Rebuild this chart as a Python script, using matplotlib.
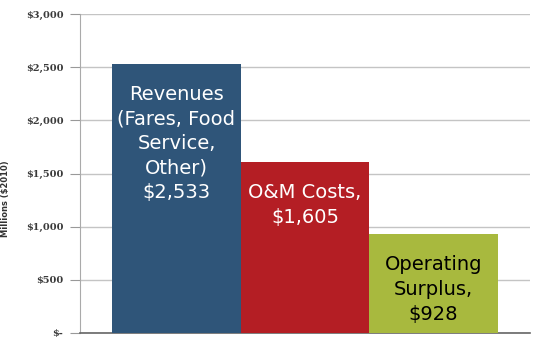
import matplotlib.pyplot as plt
from matplotlib.ticker import FuncFormatter

labels = ['Revenues\n(Fares, Food\nService,\nOther)', 'O&M Costs,', 'Operating\nSurplus,']
values = [2533, 1605, 928]
bar_colors = ['#2F5579', '#B41E24', '#A8B93E']
text_colors = ['white', 'white', 'black']
yticks = [0, 500, 1000, 1500, 2000, 2500, 3000]

fig = plt.figure(figsize=(5.37, 3.37), dpi=100)
ax = fig.add_axes([0.149, 0.012, 0.838, 0.946])

x = range(len(values))
ax.bar(x, values, width=1.0, color=bar_colors, edgecolor='none', zorder=3)

for i, (lab, v) in enumerate(zip(labels, values)):
    ax.annotate(f'{lab}\n${v:,}', xy=(i, v), xytext=(0, -15),
                textcoords='offset points', ha='center', va='top',
                fontsize=14, color=text_colors[i], linespacing=1.38,
                zorder=4)

def money(val, pos):
    return '$-' if val == 0 else f'${val:,.0f}'

ax.set_ylim(0, 3000)
ax.set_xlim(-0.75, 2.75)
ax.set_yticks(yticks)
ax.yaxis.set_major_formatter(FuncFormatter(money))
ax.set_xticks([])
ax.tick_params(axis='y', length=7, width=0.8, color='#999999', pad=5,
               labelsize=7, labelcolor='#3A3A3A')
for t in ax.get_yticklabels():
    t.set_fontweight('bold')
    t.set_family('DejaVu Serif')

ax.grid(axis='y', color='#C4C4C4', linewidth=1, zorder=0)
ax.set_ylabel('Millions ($2010)', fontsize=6, fontweight='bold', color='#333333')
ax.yaxis.set_label_coords(-0.155, 0.42)

for s in ['top', 'right']:
    ax.spines[s].set_visible(False)
ax.spines['left'].set_color('#AAAAAA')
ax.spines['bottom'].set_color('#666666')
ax.spines['bottom'].set_linewidth(1.2)

fig.savefig('out.png', dpi=100)
